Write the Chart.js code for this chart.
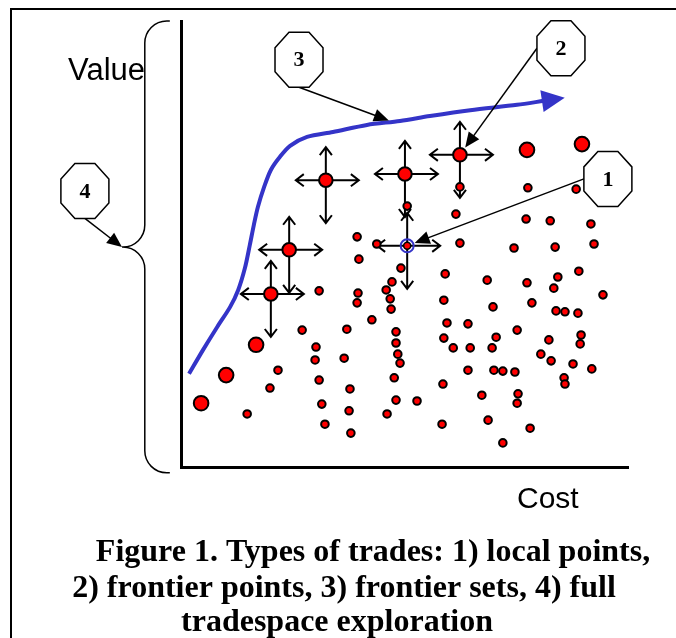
<!DOCTYPE html>
<html>
<head>
<meta charset="utf-8">
<script src="https://cdn.jsdelivr.net/npm/chart.js@4.4.1/dist/chart.umd.min.js"></script>
<style>
  html, body { margin: 0; padding: 0; background: #fff; }
  #wrap { width: 676px; height: 638px; position: relative; }
</style>
</head>
<body>
<div id="wrap"><canvas id="tradeChart"></canvas></div>
<script>
// tradespace points (cost, value), axes 0-100
const pointCost = [39.8, 49.2, 47.2, 45.9, 46.8, 47.0, 30.9, 39.6, 39.4, 42.7, 27.1, 37.1, 48.1, 48.1, 30.2,
  48.5, 49.0, 30.0, 36.5, 21.7, 47.7, 30.9, 19.9, 37.8, 48.1, 52.8, 31.5, 37.6, 46.1, 14.8, 32.2, 38.0,
  39.4, 43.8, 50.6, 62.4, 77.6, 88.4, 61.5, 77.2, 82.6, 91.7, 62.4, 74.5, 83.7, 92.4, 59.1, 68.5, 77.4,
  84.3, 83.4, 89.0, 94.4, 58.8, 69.8, 78.5, 83.9, 85.9, 88.8, 59.5, 64.2, 75.2, 58.8, 60.9, 64.7, 70.5,
  69.6, 82.3, 89.5, 89.3, 80.5, 82.8, 87.7, 91.9, 64.2, 70.0, 72.0, 74.7, 85.7, 85.9, 58.6, 67.3, 75.4,
  75.2, 58.4, 68.7, 78.1, 72.0];
const pointValue = [46.6, 44.6, 41.5, 39.7, 37.7, 35.4, 39.5, 39.0, 36.8, 33.0, 30.7, 30.9, 30.3, 27.8, 26.9,
  25.3, 23.3, 24.0, 24.4, 21.7, 20.0, 19.5, 17.7, 17.5, 15.0, 14.8, 14.1, 12.6, 11.9, 11.9, 9.6, 7.6,
  51.6, 50.0, 58.5, 62.8, 62.6, 62.3, 56.7, 55.6, 55.2, 54.5, 50.2, 49.1, 49.3, 50.0, 43.3, 41.9, 41.3,
  42.6, 40.1, 43.9, 38.6, 37.4, 35.9, 36.8, 35.0, 34.8, 34.5, 32.3, 32.1, 30.7, 28.9, 26.7, 26.7, 29.1,
  26.7, 28.5, 29.6, 27.6, 25.3, 23.8, 23.1, 22.0, 21.7, 21.7, 21.5, 21.3, 20.0, 18.6, 18.6, 16.1, 16.4,
  14.3, 9.6, 10.5, 8.7, 5.4];

// larger points along the frontier
const bigCost = [16.8, 10.1, 4.5, 77.4, 89.7];
const bigValue = [27.4, 20.6, 14.3, 71.1, 72.4];

// frontier points with local moves
const frontierCost = [20.1, 24.2, 32.4, 50.1, 62.4];
const frontierValue = [38.8, 48.7, 64.3, 65.7, 70.0];

// the one local point
const localCost = [50.6];
const localValue = [49.6];

// frontier set curve
const curveCost = [1.8, 4.9, 8.1, 11.0, 12.8, 14.3, 15.4, 16.3, 17.2, 18.6, 20.1, 22.1, 24.4, 28.2,
  34.0, 41.6, 49.0, 55.7, 64.7, 75.2, 81.2];
const curveValue = [20.9, 26.2, 31.4, 35.9, 39.7, 44.6, 49.8, 54.3, 58.3, 62.8, 66.6, 69.5, 72.0, 74.0,
  75.1, 76.7, 77.6, 78.7, 80.0, 81.2, 82.1];

// numbered callouts and where they point
const calloutLabels = ['1', '2', '3', '4'];
const calloutCost = [95.5, 85.0, 26.4, -21.5];
const calloutValue = [64.6, 93.9, 91.3, 61.9];
const targetCost = [50.6, 62.4, 46.5, -13.2];
const targetValue = [49.6, 70.0, 77.7, 49.3];

// brace for full tradespace (4)
const braceCost = { tip: -13.2, bar: -8.1, end: -2.5 };
const braceValue = { top: 100, mid: 49.3, bottom: -1.3 };

const captionLines = [
  'Figure 1. Types of trades: 1) local points,',
  '2) frontier points, 3) frontier sets, 4) full',
  'tradespace exploration'
];

const RED = '#ff0000';
const BLUE = '#3434c8';

const toXY = (xs, ys) => xs.map((x, i) => ({ x: x, y: ys[i] }));

function openArrow(ctx, x0, y0, x1, y1) {
  const a = Math.atan2(y1 - y0, x1 - x0);
  const h = 10, s = 0.65;
  ctx.beginPath();
  ctx.moveTo(x0, y0);
  ctx.lineTo(x1, y1);
  ctx.moveTo(x1 - h * Math.cos(a - s), y1 - h * Math.sin(a - s));
  ctx.lineTo(x1, y1);
  ctx.lineTo(x1 - h * Math.cos(a + s), y1 - h * Math.sin(a + s));
  ctx.stroke();
}

function solidHead(ctx, x0, y0, x1, y1, len, half) {
  const a = Math.atan2(y1 - y0, x1 - x0);
  ctx.beginPath();
  ctx.moveTo(x1, y1);
  ctx.lineTo(x1 - len * Math.cos(a) + half * Math.sin(a), y1 - len * Math.sin(a) - half * Math.cos(a));
  ctx.lineTo(x1 - len * Math.cos(a) - half * Math.sin(a), y1 - len * Math.sin(a) + half * Math.cos(a));
  ctx.closePath();
  ctx.fill();
}

const OCT_A = 24, OCT_B = 27.5;

function octagon(ctx, cx, cy, label) {
  const a = OCT_A, b = OCT_B, fa = 10, fb = 12;
  ctx.beginPath();
  ctx.moveTo(cx - fa, cy - b);
  ctx.lineTo(cx + fa, cy - b);
  ctx.lineTo(cx + a, cy - fb);
  ctx.lineTo(cx + a, cy + fb);
  ctx.lineTo(cx + fa, cy + b);
  ctx.lineTo(cx - fa, cy + b);
  ctx.lineTo(cx - a, cy + fb);
  ctx.lineTo(cx - a, cy - fb);
  ctx.closePath();
  ctx.fillStyle = '#fff';
  ctx.fill();
  ctx.lineWidth = 1.5;
  ctx.strokeStyle = '#000';
  ctx.stroke();
  ctx.fillStyle = '#000';
  ctx.font = 'bold 22px "Liberation Serif"';
  ctx.textAlign = 'center';
  ctx.textBaseline = 'middle';
  ctx.fillText(label, cx, cy + 1);
}

const figurePlugin = {
  id: 'figure',
  beforeDatasetsDraw(chart) {
    const { ctx, scales: { x, y } } = chart;
    ctx.save();
    ctx.strokeStyle = '#000';
    ctx.lineWidth = 2;
    const movesX = frontierCost.concat(localCost);
    const movesY = frontierValue.concat(localValue);
    movesX.forEach((c, i) => {
      const px = x.getPixelForValue(c), py = y.getPixelForValue(movesY[i]);
      openArrow(ctx, px, py, px - 30, py);
      openArrow(ctx, px, py, px + 33, py);
      openArrow(ctx, px, py, px, py - 33);
      openArrow(ctx, px, py, px, py + 43);
    });
    ctx.restore();
  },
  afterDatasetsDraw(chart) {
    const { ctx, scales: { x, y } } = chart;
    ctx.save();
    // arrowhead at the end of the frontier curve
    const pts = chart.getDatasetMeta(0).data;
    const p1 = pts[pts.length - 2], p2 = pts[pts.length - 1];
    const a = Math.atan2(p2.y - p1.y, p2.x - p1.x);
    ctx.fillStyle = BLUE;
    solidHead(ctx, p2.x - 2 * Math.cos(a), p2.y - 2 * Math.sin(a),
      p2.x + 21 * Math.cos(a), p2.y + 21 * Math.sin(a), 23, 11);

    // brace
    const bx = x.getPixelForValue(braceCost.bar);
    const tx = x.getPixelForValue(braceCost.tip);
    const ex = x.getPixelForValue(braceCost.end);
    const yt = y.getPixelForValue(braceValue.top);
    const ym = y.getPixelForValue(braceValue.mid);
    const yb = y.getPixelForValue(braceValue.bottom);
    const r = 22;
    ctx.strokeStyle = '#000';
    ctx.lineWidth = 1.5;
    ctx.beginPath();
    ctx.moveTo(ex, yt);
    ctx.arcTo(bx, yt, bx, yt + r, r);
    ctx.lineTo(bx, ym - r);
    ctx.arcTo(bx, ym, tx, ym, r);
    ctx.lineTo(tx, ym);
    ctx.moveTo(tx, ym);
    ctx.arcTo(bx, ym, bx, ym + r, r);
    ctx.lineTo(bx, yb - r);
    ctx.arcTo(bx, yb, ex, yb, r);
    ctx.lineTo(ex, yb);
    ctx.stroke();

    // callouts: leader leaves from the left side or the bottom of the octagon
    const gaps = [8, 9, 0, 0];
    const anchors = [[-OCT_A, 0], [-OCT_A, 0], [0, OCT_B], [0, OCT_B]];
    calloutLabels.forEach((lab, i) => {
      const cx = x.getPixelForValue(calloutCost[i]), cy = y.getPixelForValue(calloutValue[i]);
      const sx = cx + anchors[i][0], sy = cy + anchors[i][1];
      let tx2 = x.getPixelForValue(targetCost[i]), ty2 = y.getPixelForValue(targetValue[i]);
      const ang = Math.atan2(ty2 - sy, tx2 - sx);
      tx2 -= gaps[i] * Math.cos(ang);
      ty2 -= gaps[i] * Math.sin(ang);
      ctx.strokeStyle = '#000';
      ctx.lineWidth = 1.5;
      ctx.beginPath();
      ctx.moveTo(sx, sy);
      ctx.lineTo(tx2 - 10 * Math.cos(ang), ty2 - 10 * Math.sin(ang));
      ctx.stroke();
      ctx.fillStyle = '#000';
      solidHead(ctx, sx, sy, tx2, ty2, 15, 6.5);
      octagon(ctx, cx, cy, lab);
    });
    ctx.restore();
  },
  afterDraw(chart) {
    const { ctx, chartArea: ca } = chart;
    ctx.save();
    // outer frame
    ctx.strokeStyle = '#000';
    ctx.lineWidth = 2;
    ctx.beginPath();
    ctx.moveTo(11, 640);
    ctx.lineTo(11, 9);
    ctx.lineTo(680, 9);
    ctx.stroke();

    ctx.fillStyle = '#000';
    ctx.textBaseline = 'alphabetic';
    ctx.font = '31px "Liberation Sans"';
    ctx.textAlign = 'right';
    ctx.fillText('Value', ca.left - 36, ca.top + 59);
    ctx.textAlign = 'left';
    ctx.font = '30px "Liberation Sans"';
    ctx.fillText('Cost', ca.right - 111, ca.bottom + 41);

    ctx.font = 'bold 32px "Liberation Serif"';
    ctx.textAlign = 'center';
    const centers = [373, 344, 337];
    const bases = [561, 597, 631];
    captionLines.forEach((t, i) => ctx.fillText(t, centers[i], bases[i]));
    ctx.restore();
  }
};

const axis = {
  type: 'linear',
  min: 0,
  max: 100,
  grid: { display: false, drawTicks: false },
  ticks: { display: false },
  border: { display: true, color: '#000', width: 3 }
};

new Chart(document.getElementById('tradeChart'), {
  type: 'scatter',
  data: {
    datasets: [
      {
        type: 'line',
        data: toXY(curveCost, curveValue),
        borderColor: BLUE,
        borderWidth: 4,
        pointRadius: 0,
        tension: 0.3,
        fill: false,
        clip: false
      },
      {
        data: toXY(pointCost, pointValue),
        backgroundColor: RED,
        borderColor: '#000',
        borderWidth: 2,
        pointRadius: 3.8
      },
      {
        data: toXY(bigCost, bigValue),
        backgroundColor: RED,
        borderColor: '#000',
        borderWidth: 2,
        pointRadius: 7.3
      },
      {
        data: toXY(frontierCost, frontierValue),
        backgroundColor: RED,
        borderColor: '#000',
        borderWidth: 2,
        pointRadius: 6.8
      },
      {
        data: toXY(localCost, localValue),
        backgroundColor: 'rgba(0,0,0,0)',
        borderColor: BLUE,
        borderWidth: 2,
        pointRadius: 6.5
      },
      {
        data: toXY(localCost, localValue),
        backgroundColor: RED,
        borderColor: '#000',
        borderWidth: 1.5,
        pointRadius: 3.5
      }
    ]
  },
  options: {
    responsive: true,
    maintainAspectRatio: false,
    animation: false,
    layout: { padding: { left: 181, right: 48, top: 21, bottom: 171 } },
    plugins: { legend: { display: false }, tooltip: { enabled: false } },
    events: [],
    scales: { x: axis, y: axis }
  },
  plugins: [figurePlugin]
});
</script>
</body>
</html>
